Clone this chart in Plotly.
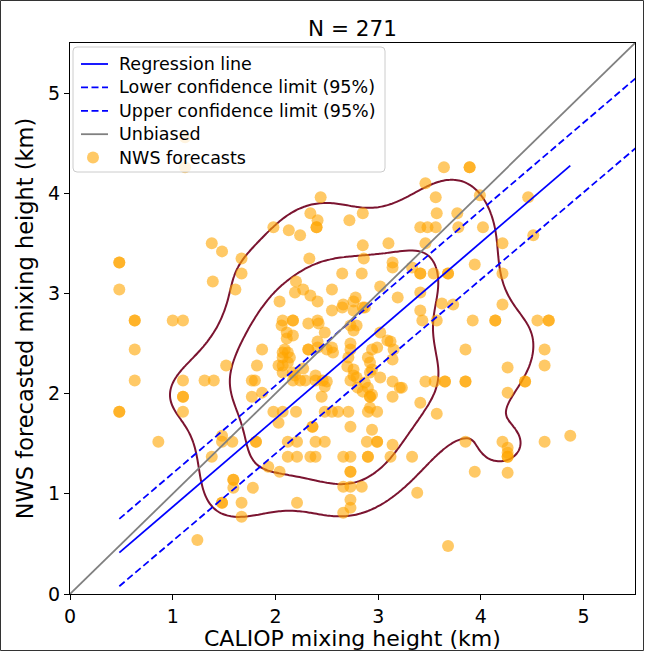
import numpy as np
import plotly.graph_objects as go

# ---------------- data ----------------
CALIOP = [0.48, 0.48, 0.48, 0.63, 0.63, 0.63, 0.63, 0.48, 0.48, 1.00, 1.10, 1.10, 1.10, 1.10, 1.10, 0.86,
          1.12, 1.12, 1.24, 1.31, 1.40, 1.38, 1.48, 1.67, 1.67, 1.39, 1.61, 1.52, 1.82, 1.80, 1.77, 1.87,
          1.87, 1.48, 1.48, 1.58, 1.81, 1.81, 1.38, 1.59, 1.59, 1.59, 1.78, 1.48, 1.48, 1.67, 1.67, 1.77,
          1.98, 2.13, 2.24, 2.34, 2.41, 2.40, 2.40, 2.44, 2.33, 2.20, 2.27, 2.19, 2.34, 2.41, 2.04,
          2.07, 2.17, 2.17, 2.06, 2.32, 2.41, 2.42, 2.11, 2.17, 2.48, 2.11, 2.41, 2.41,
          2.09, 2.07, 2.12, 2.14, 2.07, 2.12, 2.07, 2.32, 2.32, 2.50, 2.03, 2.07, 2.17, 2.19, 2.27,
          2.39, 2.39, 2.24, 2.29, 2.17, 2.45, 2.46,
          1.98, 2.07, 2.20, 2.48, 2.03, 2.36, 2.36, 2.12, 2.21, 2.39, 2.48, 2.12, 2.21, 2.34, 2.39,
          1.93, 2.04, 2.21,
          2.72, 2.85, 2.85, 2.86, 3.10, 3.14, 3.14, 2.65, 2.84, 3.02, 2.55, 2.78, 2.76, 2.85, 2.66,
          2.65, 2.55, 2.76, 2.87, 3.19,
          2.79, 2.73, 2.76, 3.02, 3.09, 3.12, 3.15, 2.99, 2.73, 2.73, 2.94, 2.90, 2.55, 2.56, 2.71,
          2.92, 2.94, 2.92, 2.76, 2.76, 2.70, 2.73, 2.79, 2.87, 2.80, 2.90, 2.85, 2.94, 2.92, 2.92,
          3.02, 3.14, 3.21, 3.23, 3.14, 3.14, 2.50, 2.48,
          2.55, 2.61, 2.71, 2.90, 2.92, 2.99, 2.73, 2.94, 2.89, 2.99, 2.99, 3.14, 2.66, 2.73, 2.90,
          2.90, 3.12, 2.73, 2.73, 2.66, 2.73, 2.84, 2.73, 2.73, 2.66,
          3.64, 3.89, 3.89, 3.46, 3.56, 3.99, 3.57, 3.77, 3.41, 3.48, 3.56, 3.78, 4.02, 3.46, 3.33,
          3.41, 3.41, 3.54, 3.68, 3.68, 3.94, 3.41, 3.62, 3.73, 3.41, 3.43, 3.57, 3.92, 3.85,
          3.46, 3.55, 3.65, 3.65, 3.85, 3.85, 3.41, 3.57, 3.33, 3.85, 3.94, 3.38, 3.68,
          4.51, 4.21, 4.46, 4.21, 4.21, 4.14, 4.14, 4.55, 4.66, 4.66, 4.62, 4.62, 4.26, 4.43, 4.43,
          4.26, 4.21, 4.26, 4.26, 4.26, 4.26, 4.62, 4.87, 4.26]

NWS = [3.31, 3.31, 3.04, 2.73, 2.73, 2.44, 2.13, 1.82, 1.82, 2.73, 2.73, 2.13, 1.97, 1.97, 1.82, 1.52,
       4.56, 4.26, 0.54, 2.13, 2.13, 3.50, 3.42, 3.35, 3.20, 3.12, 3.04, 2.28, 2.28, 2.13, 1.97, 2.01,
       2.44, 1.58, 1.52, 1.52, 1.52, 1.52, 1.37, 1.14, 1.14, 1.06, 1.06, 0.91, 0.91, 0.91, 0.77, 2.13,
       3.66, 3.63, 3.58, 3.80, 3.73, 3.66, 3.66, 3.96, 3.35, 3.12, 3.04, 3.01, 2.98, 2.92, 2.92,
       2.73, 2.73, 2.73, 2.68, 2.70, 2.73, 2.70, 2.61, 2.58, 2.61, 2.55, 2.52, 2.46,
       2.44, 2.41, 2.41, 2.36, 2.36, 2.31, 2.28, 2.44, 2.44, 2.44, 2.28, 2.21, 2.21, 2.18, 2.25,
       2.18, 2.13, 2.13, 2.13, 2.13, 1.97, 2.13,
       1.82, 1.82, 1.82, 1.82, 1.71, 1.67, 1.67, 1.52, 1.52, 1.52, 1.52, 1.37, 1.37, 1.37, 1.37,
       1.27, 1.22, 0.91,
       3.73, 3.80, 3.48, 3.35, 3.50, 3.31, 3.26, 3.20, 3.20, 3.07, 3.04, 2.96, 2.92, 2.86, 2.89,
       2.86, 2.83, 2.83, 2.86, 2.96,
       2.68, 2.68, 2.63, 2.61, 2.53, 2.52, 2.44, 2.46, 2.50, 2.44, 2.44, 2.36, 2.46, 2.41, 2.36,
       2.31, 2.24, 2.21, 2.24, 2.18, 2.27, 2.13, 2.16, 2.11, 2.06, 2.06, 2.02, 1.99, 1.97, 1.97,
       2.16, 2.12, 2.06, 2.06, 1.97, 2.34, 2.12, 2.07,
       1.82, 1.82, 1.82, 1.82, 1.86, 1.82, 1.67, 1.64, 1.52, 1.52, 1.52, 1.49, 1.37, 1.37, 1.37,
       1.37, 1.37, 1.22, 1.22, 1.07, 1.07, 1.07, 0.94, 0.86, 0.81,
       4.26, 4.26, 4.26, 4.10, 3.96, 3.98, 3.80, 3.80, 3.66, 3.66, 3.66, 3.66, 3.66, 3.50, 3.26,
       3.20, 3.20, 3.20, 3.20, 3.20, 3.29, 3.01, 2.90, 2.89, 2.83, 2.73, 2.73, 2.73, 2.44,
       2.12, 2.12, 2.12, 2.12, 2.12, 2.12, 1.91, 1.80, 1.37, 1.52, 1.22, 1.01, 0.48,
       3.58, 3.50, 3.96, 3.20, 2.89, 2.73, 2.73, 2.73, 2.73, 2.73, 2.44, 2.28, 2.26, 2.12, 2.12,
       2.01, 1.52, 1.46, 1.41, 1.37, 1.37, 1.52, 1.58, 1.21]

# regression and 95% confidence limits (slope, intercept)
REG = (0.88, -0.01)
LOWER = (0.87, -0.34)
UPPER = (0.875, 0.33)
KDE_LEVELS = [0.23, 0.5]   # iso-proportion levels of the density contours

TITLE = "N = 271"
X_TITLE = "CALIOP mixing height (km)"
Y_TITLE = "NWS forecasted mixing height (km)"
TICKS = [0, 1, 2, 3, 4, 5]
LEGEND_LABELS = ["Regression line", "Lower confidence limit (95%)",
                 "Upper confidence limit (95%)", "Unbiased", "NWS forecasts"]

# ---------------- build ----------------
x = np.array(CALIOP)
y = np.array(NWS)
n = len(x)

# Gaussian KDE (Scott's rule), evaluated on a grid
pts = np.vstack([x, y])
factor = n ** (-1.0 / 6.0)
cov = np.cov(pts) * factor ** 2
inv = np.linalg.inv(cov)
gx = np.linspace(-1.0, 7.0, 241)
gy = np.linspace(-1.0, 7.0, 241)
GX, GY = np.meshgrid(gx, gy)
dx = GX[..., None] - x[None, None, :]
dy = GY[..., None] - y[None, None, :]
q = inv[0, 0] * dx * dx + 2 * inv[0, 1] * dx * dy + inv[1, 1] * dy * dy
dens = np.exp(-0.5 * q).sum(axis=-1) / (2 * np.pi * np.sqrt(np.linalg.det(cov)) * n)

vals = np.sort(dens.ravel())[::-1]
cum = np.cumsum(vals) / vals.sum()
levels = [vals[min(np.searchsorted(cum, 1 - p), len(vals) - 1)] for p in KDE_LEVELS]
l_out, l_in = levels[0], levels[1]

CONT_COLOR = "#7b1430"
ORANGE = "#FFA500"
BLUE = "#0000FF"
GRAY = "#808080"
DASH = "7px,3.5px"
FONT = "DejaVu Sans"

fig = go.Figure()

fig.add_trace(go.Scatter(
    x=x, y=y, mode="markers", name=LEGEND_LABELS[4],
    marker=dict(color=ORANGE, size=12, opacity=0.6, line=dict(width=0))))

fig.add_trace(go.Contour(
    x=gx, y=gy, z=dens, autocontour=False,
    contours=dict(coloring="lines", start=l_out, end=l_in * 1.0001, size=(l_in - l_out)),
    line=dict(width=2, smoothing=1),
    colorscale=[[0, CONT_COLOR], [1, CONT_COLOR]],
    showscale=False, hoverinfo="skip", showlegend=False))

xr = np.array([x.min(), x.max()])
xc = np.array([x.min(), 6.0])
fig.add_trace(go.Scatter(x=xr, y=REG[0] * xr + REG[1], mode="lines", name=LEGEND_LABELS[0],
                         line=dict(color=BLUE, width=1.8)))
fig.add_trace(go.Scatter(x=xc, y=LOWER[0] * xc + LOWER[1], mode="lines", name=LEGEND_LABELS[1],
                         line=dict(color=BLUE, width=1.8, dash=DASH)))
fig.add_trace(go.Scatter(x=xc, y=UPPER[0] * xc + UPPER[1], mode="lines", name=LEGEND_LABELS[2],
                         line=dict(color=BLUE, width=1.8, dash=DASH)))
fig.add_trace(go.Scatter(x=[0, 6], y=[0, 6], mode="lines", name=LEGEND_LABELS[3],
                         line=dict(color=GRAY, width=1.8)))

L, R, T, B = 70, 10, 43, 57
W, H = 645, 651
pw, ph = W - L - R, H - T - B


def px(v):
    return (v - L) / pw


def py(v):
    return (T + ph - v) / ph


fig.update_layout(
    width=W, height=H,
    margin=dict(l=L, r=R, t=T, b=B, pad=0, autoexpand=False),
    paper_bgcolor="white", plot_bgcolor="white",
    font=dict(family=FONT, color="black", size=16),
    title=dict(text=TITLE, x=(L + pw / 2) / W, xanchor="center",
               y=1 - 28 / H, yanchor="middle", yref="container",
               font=dict(size=21.5, family=FONT)),
    showlegend=False,
    xaxis=dict(range=[0, 5.5], tickvals=TICKS, ticks="outside", ticklen=5, tickwidth=1,
               tickcolor="black", showgrid=False, zeroline=False, showline=True,
               linecolor="black", linewidth=1, mirror=True, automargin=False,
               tickfont=dict(size=19)),
    yaxis=dict(range=[0, 5.5], tickvals=TICKS, ticks="outside", ticklen=5, tickwidth=1,
               tickcolor="black", showgrid=False, zeroline=False, showline=True,
               linecolor="black", linewidth=1, mirror=True, automargin=False,
               tickfont=dict(size=19), title=dict(text=Y_TITLE, font=dict(size=22.5), standoff=8)),
)

# x-axis title placed under the tick labels
fig.add_annotation(text=X_TITLE, xref="paper", yref="paper", x=0.5, y=py(638.5),
                   xanchor="center", yanchor="middle", showarrow=False,
                   font=dict(size=22, family=FONT, color="black"))

# ---- legend box (drawn as shapes + text, matching the reference layout) ----
bx0, bx1, by0, by1, rr = 73, 385, 47, 172, 4
path = (f"M {px(bx0 + rr)},{py(by0)} L {px(bx1 - rr)},{py(by0)} "
        f"Q {px(bx1)},{py(by0)} {px(bx1)},{py(by0 + rr)} L {px(bx1)},{py(by1 - rr)} "
        f"Q {px(bx1)},{py(by1)} {px(bx1 - rr)},{py(by1)} L {px(bx0 + rr)},{py(by1)} "
        f"Q {px(bx0)},{py(by1)} {px(bx0)},{py(by1 - rr)} L {px(bx0)},{py(by0 + rr)} "
        f"Q {px(bx0)},{py(by0)} {px(bx0 + rr)},{py(by0)} Z")
fig.add_shape(type="path", path=path, xref="paper", yref="paper",
              fillcolor="rgba(255,255,255,0.8)", line=dict(color="#cccccc", width=1), layer="above")

legend_styles = [("line", BLUE, "solid"), ("line", BLUE, DASH), ("line", BLUE, DASH),
                 ("line", GRAY, "solid"), ("marker", ORANGE, None)]
y_first, y_step = 64, 23.4
for i, (label, (kind, col, dash)) in enumerate(zip(LEGEND_LABELS, legend_styles)):
    yc = y_first + i * y_step
    if kind == "line":
        fig.add_shape(type="line", xref="paper", yref="paper",
                      x0=px(81), x1=px(108), y0=py(yc), y1=py(yc),
                      line=dict(color=col, width=1.8, dash=dash), layer="above")
    else:
        fig.add_shape(type="circle", xref="paper", yref="paper",
                      x0=px(87), x1=px(99), y0=py(yc + 6), y1=py(yc - 6),
                      fillcolor=col, opacity=0.6, line=dict(width=0), layer="above")
    fig.add_annotation(text=label, xref="paper", yref="paper", x=px(117), y=py(yc),
                       xanchor="left", yanchor="middle", showarrow=False,
                       font=dict(size=17.5, family=FONT, color="black"))

# outer frame around the whole figure
fig.add_shape(type="rect", xref="paper", yref="paper",
              x0=px(0.5), x1=px(643.5), y0=py(650.5), y1=py(0.5),
              line=dict(color="#333333", width=1), fillcolor="rgba(0,0,0,0)", layer="above")

fig.write_html("out.html")
